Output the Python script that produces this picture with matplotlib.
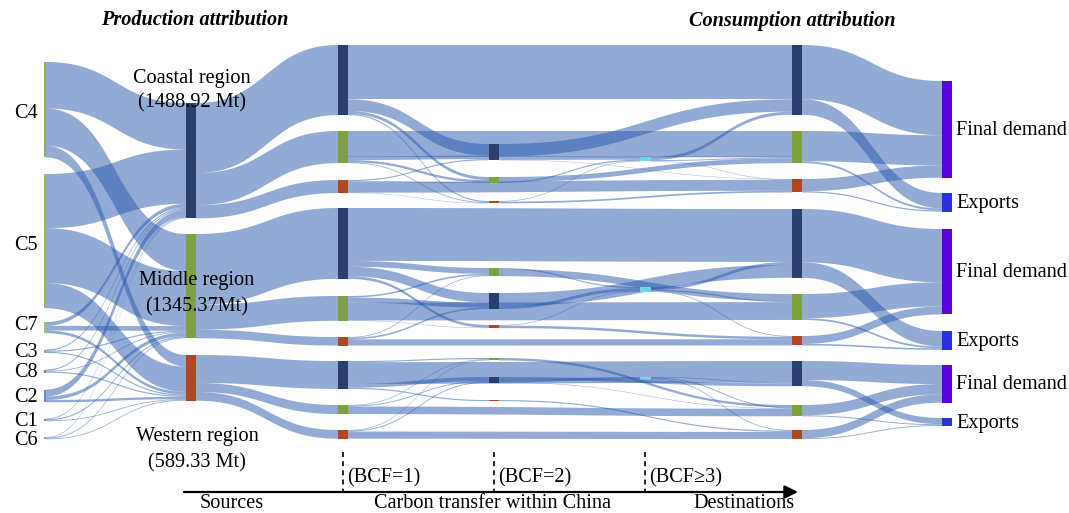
import numpy as np
import matplotlib
matplotlib.use("Agg")
import matplotlib.pyplot as plt
from matplotlib.patches import Rectangle, Polygon

plt.rcParams['font.family'] = ['Liberation Serif', 'DejaVu Serif']

# ---------------------------------------------------------------- data (Mt)
regions = ['Coastal', 'Middle', 'Western']
region_labels = [['Coastal region', '(1488.92 Mt)'],
                 ['Middle region', '(1345.37Mt)'],
                 ['Western region', '(589.33 Mt)']]
sources = ['C4', 'C5', 'C7', 'C3', 'C8', 'C2', 'C1', 'C6']

# source sector -> production region [Coastal, Middle, Western]
source_to_region = {
    'C4': [600.92, 480.0, 150.0],
    'C5': [700.0, 708.37, 324.33],
    'C7': [50.0, 60.0, 35.0],
    'C3': [15.0, 15.0, 15.0],
    'C8': [15.0, 10.0, 15.0],
    'C2': [90.0, 45.0, 30.0],
    'C1': [10.0, 15.0, 10.0],
    'C6': [8.0, 12.0, 10.0],
}

# production region g -> BCF=1 node (g, d)
region_to_bcf1 = [
    [905.0, 415.0, 168.92],
    [915.0, 320.0, 110.37],
    [360.0, 117.0, 112.33],
]
# BCF=1 node (g, d) -> destination node (g, d)
bcf1_direct = [
    [700.0, 330.0, 140.92],
    [683.0, 230.0, 80.37],
    [280.0, 97.0, 92.33],
]
# BCF=1 node (g, d) -> BCF=2 node (g, d2)
bcf1_to_bcf2 = [
    [[150.0, 40.0, 15.0], [45.0, 30.0, 10.0], [15.0, 8.0, 5.0]],
    [[122.0, 75.0, 35.0], [65.0, 20.0, 5.0], [20.0, 10.0, 0.0]],
    [[50.0, 15.0, 15.0], [12.0, 8.0, 0.0], [12.0, 8.0, 0.0]],
]
# BCF=2 node (g, d) -> destination node (g, d3)
bcf2_to_dest = [
    [[160.0, 10.0, 5.0], [0.0, 63.0, 0.0], [0.0, 0.0, 22.0]],
    [[167.0, 0.0, 0.0], [0.0, 90.0, 0.0], [0.0, 0.0, 32.0]],
    [[38.0, 6.0, 0.0], [0.0, 31.0, 0.0], [0.0, 0.0, 15.0]],
]
# BCF=2 node (g, d) -> BCF>=3 node g
bcf2_to_bcf3 = [
    [35.0, 15.0, 8.0],
    [40.0, 15.0, 8.0],
    [30.0, 0.0, 0.0],
]
# BCF>=3 node g -> destination node (g, d)
bcf3_to_dest = [
    [40.0, 12.0, 6.0],
    [38.0, 15.0, 10.0],
    [8.0, 12.0, 10.0],
]
# destination node (g, d) -> [Final demand, Exports]
dest_to_final = [
    [[700.0, 200.0], [390.0, 25.0], [158.0, 15.92]],
    [[688.0, 200.0], [312.0, 23.0], [102.0, 20.37]],
    [[246.0, 80.0], [134.0, 12.0], [106.0, 11.33]],
]
final_labels = ['Final demand', 'Exports']

# ---------------------------------------------------------------- layout
W, H = 1069, 513
SCALE = 0.0775            # pixels per Mt
NODE_W = 10
col_x = [43.5, 186, 338, 489, 640, 792, 942]
col0_tops = [62, 174, 322, 349.5, 369.5, 389.5, 418.5, 437]
source_label_dy = [4, 4, -2, 1, 1, 2, 2, 2]
col1_tops = [103, 234, 355]
bcf1_tops = [[45, 131, 180], [208, 296, 337], [361, 405, 430]]
bcf2_tops = [[144, 177, 201], [293, 268, 325], [377, 358, 400]]
bcf3_tops = [157, 287, 377]
dest_tops = [[45, 131, 179], [209, 294, 336], [361, 405, 430]]
final_tops = [[81, 193], [229, 331], [365, 418]]

region_colors = ['#2b3f6e', '#7fa23a', '#b4461f']
source_colors = ['#8eaa6e', '#98b86c', '#a6c07a', '#9099ad', '#8a7a60',
                 '#6f80e0', '#7482b4', '#8a93b5']
cyan = '#6fd6e4'
final_colors = ['#5c00dc', '#2d30e0']
ribbon_rgba = (41 / 255, 87 / 255, 173 / 255, 0.5)

# ---------------------------------------------------------------- graph
nodes = {}   # id -> dict(x, w, top, color)
links = []   # (src, tgt, value)


def add_node(nid, x, top, color, w=NODE_W):
    nodes[nid] = dict(x=x, w=w, top=top, color=color)


for i, s in enumerate(sources):
    add_node(('S', i), col_x[0], col0_tops[i], source_colors[i], w=2.5)
for g in range(3):
    add_node(('R', g), col_x[1], col1_tops[g], region_colors[g])
    add_node(('B3', g), col_x[4], bcf3_tops[g], cyan, w=11)
    for d in range(3):
        add_node(('B1', g, d), col_x[2], bcf1_tops[g][d], region_colors[d])
        add_node(('B2', g, d), col_x[3], bcf2_tops[g][d], region_colors[d])
        add_node(('D', g, d), col_x[5], dest_tops[g][d], region_colors[d])
    for k in range(2):
        add_node(('F', g, k), col_x[6], final_tops[g][k], final_colors[k])

for i, s in enumerate(sources):
    for g in range(3):
        links.append((('S', i), ('R', g), source_to_region[s][g]))
for g in range(3):
    for d in range(3):
        links.append((('R', g), ('B1', g, d), region_to_bcf1[g][d]))
        links.append((('B1', g, d), ('D', g, d), bcf1_direct[g][d]))
        for d2 in range(3):
            links.append((('B1', g, d), ('B2', g, d2), bcf1_to_bcf2[g][d][d2]))
            links.append((('B2', g, d), ('D', g, d2), bcf2_to_dest[g][d][d2]))
        links.append((('B2', g, d), ('B3', g), bcf2_to_bcf3[g][d]))
        links.append((('B3', g), ('D', g, d), bcf3_to_dest[g][d]))
        for k in range(2):
            links.append((('D', g, d), ('F', g, k), dest_to_final[g][d][k]))
links = [l for l in links if l[2] > 0]

# node heights from flow values
inflow = {n: 0.0 for n in nodes}
outflow = {n: 0.0 for n in nodes}
for s, t, v in links:
    outflow[s] += v
    inflow[t] += v
for n, nd in nodes.items():
    nd['h'] = max(inflow[n], outflow[n]) * SCALE
    nd['cy'] = nd['top'] + nd['h'] / 2

# stacking of link ends on each node
src_off, tgt_off = {}, {}
for n in nodes:
    outs = sorted([l for l in links if l[0] == n], key=lambda l: nodes[l[1]]['cy'])
    y = nodes[n]['top']
    for l in outs:
        src_off[id(l)] = y
        y += l[2] * SCALE
    ins = sorted([l for l in links if l[1] == n], key=lambda l: nodes[l[0]]['cy'])
    y = nodes[n]['top']
    for l in ins:
        tgt_off[id(l)] = y
        y += l[2] * SCALE

# ---------------------------------------------------------------- draw
fig = plt.figure(figsize=(W / 100, H / 100), dpi=100)
ax = fig.add_axes([0, 0, 1, 1])
ax.set_xlim(0, W)
ax.set_ylim(H, 0)
ax.axis('off')

t = np.linspace(0, 1, 80)
ease = 3 * t ** 2 - 2 * t ** 3
for l in links:
    s, tg, v = l
    x0 = nodes[s]['x'] + nodes[s]['w']
    x1 = nodes[tg]['x']
    dx = x1 - x0
    # cubic Bezier with horizontal tangents at both ends
    bx = x0 + dx * (1.5 * (1 - t) ** 2 * t + 1.5 * (1 - t) * t ** 2 + t ** 3)
    ya0 = src_off[id(l)]
    yb0 = tgt_off[id(l)]
    hh = v * SCALE
    top = ya0 + (yb0 - ya0) * ease
    pts = np.vstack([np.column_stack([bx, top]),
                     np.column_stack([bx[::-1], (top + hh)[::-1]])])
    ax.add_patch(Polygon(pts, closed=True, facecolor=ribbon_rgba,
                         edgecolor='none', lw=0, zorder=1))

for n, nd in nodes.items():
    ax.add_patch(Rectangle((nd['x'], nd['top']), nd['w'], nd['h'],
                           facecolor=nd['color'], edgecolor='none', zorder=3))

FS = 14.6
for i, s in enumerate(sources):
    ax.text(38, nodes[('S', i)]['cy'] + source_label_dy[i], s, ha='right',
            va='center', fontsize=FS, zorder=5)

region_text_pos = [(192, 78, 103), (197, 281, 307), (197, 437, 463)]
for g in range(3):
    x, y1, y2 = region_text_pos[g]
    ax.text(x, y1, region_labels[g][0], ha='center', va='center', fontsize=FS, zorder=5)
    ax.text(x, y2, region_labels[g][1], ha='center', va='center', fontsize=FS, zorder=5)

for g in range(3):
    for k in range(2):
        nd = nodes[('F', g, k)]
        ax.text(nd['x'] + nd['w'] + 4, nd['cy'] + 1, final_labels[k],
                ha='left', va='center', fontsize=FS, zorder=5)

ax.text(195, 20, 'Production attribution', ha='center', va='center',
        fontsize=FS, fontweight='bold', fontstyle='italic')
ax.text(792, 21, 'Consumption attribution', ha='center', va='center',
        fontsize=FS, fontweight='bold', fontstyle='italic')

# process axis at the bottom
ax.annotate('', xy=(798, 492), xytext=(184, 492),
            arrowprops=dict(arrowstyle='-|>', color='black', lw=1.6,
                            mutation_scale=20, shrinkA=0, shrinkB=0))
bcf_labels = ['(BCF=1)', '(BCF=2)', '(BCF\u22653)']
for c, lab in zip([2, 3, 4], bcf_labels):
    xm = col_x[c] + NODE_W / 2
    ax.plot([xm, xm], [452, 491], color='black', lw=1.2, ls=(0, (3, 2.5)))
    ax.text(xm + 4, 478, lab, ha='left', va='center', fontsize=FS)
ax.text(200, 503, 'Sources', ha='left', va='center', fontsize=FS)
ax.text(493, 503, 'Carbon transfer within China', ha='center', va='center', fontsize=FS)
ax.text(795, 503, 'Destinations', ha='right', va='center', fontsize=FS)

fig.savefig('out.png', dpi=100)
